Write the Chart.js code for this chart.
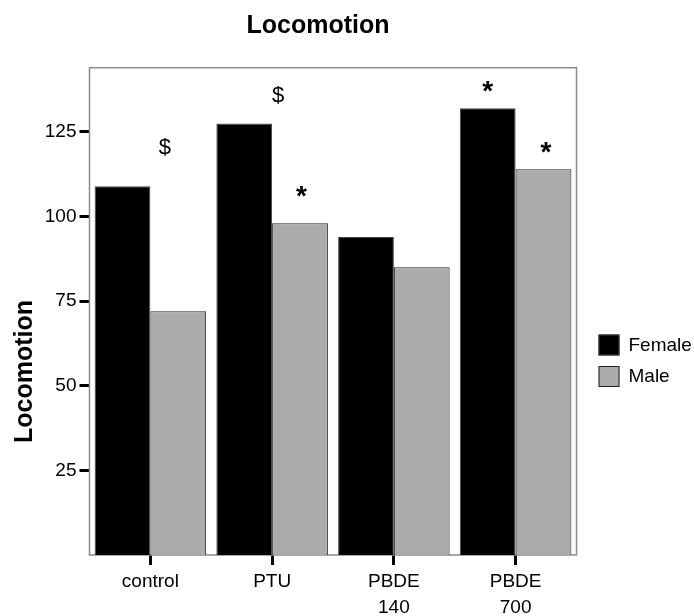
<!DOCTYPE html>
<html>
<head>
<meta charset="utf-8">
<script src="https://cdn.jsdelivr.net/npm/chart.js@4.4.1/dist/chart.umd.min.js"></script>
<style>
  html, body { margin: 0; padding: 0; background: #fff; }
</style>
</head>
<body>
<canvas id="chart1" width="694" height="616"></canvas>
<script>
// data
const groups = ['control', 'PTU', 'PBDE 140', 'PBDE 700'];
const seriesNames = ['Female', 'Male'];
const female = [109, 127.5, 94, 132];
const male = [72, 98, 85, 114];
const yTicks = [25, 50, 75, 100, 125];
const yMax = 144;

// significance marks: text, category, shift (in category widths), value height
const markText = ['$', '$', '*', '*', '*'];
const markCategory = [0, 1, 1, 3, 3];
const markShift = [0.12, 0.05, 0.24, -0.23, 0.25];
const markValue = [120.7, 136, 107.5, 138.4, 120.4];

const fillColors = ['#000000', '#ababab'];
const edgeColors = ['#444444', '#222222'];
const FONT = '"Liberation Sans", Arial, sans-serif';

const decor = {
    id: 'decor',
    beforeDatasetsDraw(chart) {
        const ctx = chart.ctx, a = chart.chartArea;
        ctx.save();
        ctx.strokeStyle = '#8c8c8c';
        ctx.lineWidth = 1.5;
        ctx.strokeRect(a.left, a.top, a.right - a.left, a.bottom - a.top);
        ctx.restore();
    },
    afterDraw(chart) {
        const ctx = chart.ctx, a = chart.chartArea;
        const xs = chart.scales.x, ys = chart.scales.y;
        ctx.save();
        ctx.fillStyle = '#000';

        // title
        ctx.font = 'bold 25px ' + FONT;
        ctx.textAlign = 'center';
        ctx.textBaseline = 'alphabetic';
        ctx.fillText('Locomotion', 318, 32.5);

        // y axis title
        ctx.save();
        ctx.translate(32, 371.5);
        ctx.rotate(-Math.PI / 2);
        ctx.fillText('Locomotion', 0, 0);
        ctx.restore();

        // marks
        const step = xs.getPixelForValue(1) - xs.getPixelForValue(0);
        markText.forEach(function(t, i) {
            ctx.font = (t === '*' ? 'bold 28px ' : '22px ') + FONT;
            const m = ctx.measureText(t);
            const x = xs.getPixelForValue(markCategory[i]) + markShift[i] * step;
            const yc = ys.getPixelForValue(markValue[i]);
            ctx.textAlign = 'center';
            ctx.fillText(t, x, yc + (m.actualBoundingBoxAscent - m.actualBoundingBoxDescent) / 2);
        });

        // legend
        ctx.font = '19px ' + FONT;
        ctx.textAlign = 'left';
        ctx.textBaseline = 'middle';
        seriesNames.forEach(function(name, i) {
            const bx = a.right + 22, by = 334.5 + i * 31.5;
            ctx.fillStyle = fillColors[i];
            ctx.fillRect(bx, by, 21, 21);
            ctx.strokeStyle = edgeColors[i];
            ctx.lineWidth = 1;
            ctx.strokeRect(bx + 0.5, by + 0.5, 20, 20);
            ctx.fillStyle = '#000';
            ctx.fillText(name, bx + 30, by + 11);
        });
        ctx.restore();
    }
};

new Chart(document.getElementById('chart1'), {
    type: 'bar',
    data: {
        labels: groups,
        datasets: [{
            label: seriesNames[0],
            data: female,
            backgroundColor: fillColors[0],
            borderColor: edgeColors[0],
            borderWidth: 1,
            barPercentage: 1,
            categoryPercentage: 0.916
        }, {
            label: seriesNames[1],
            data: male,
            backgroundColor: fillColors[1],
            borderColor: edgeColors[1],
            borderWidth: 1,
            barPercentage: 1,
            categoryPercentage: 0.916
        }]
    },
    options: {
        responsive: false,
        animation: false,
        devicePixelRatio: 1,
        layout: {
            padding: { top: 67.7, right: 117.5, left: 0, bottom: 0 }
        },
        plugins: {
            legend: { display: false },
            tooltip: { enabled: false }
        },
        scales: {
            x: {
                border: { display: false },
                grid: {
                    offset: false,
                    drawOnChartArea: false,
                    drawTicks: true,
                    tickLength: 10,
                    tickWidth: 3,
                    tickColor: '#000'
                },
                ticks: {
                    color: '#000',
                    padding: 4,
                    maxRotation: 0,
                    autoSkip: false,
                    font: { family: FONT, size: 19, lineHeight: 1.35 },
                    callback: function(v, i) {
                        return groups[i].split(' ');
                    }
                },
                afterFit: function(scale) { scale.height = 61; }
            },
            y: {
                min: 0,
                max: yMax,
                border: { display: false },
                grid: {
                    drawOnChartArea: false,
                    drawTicks: true,
                    tickLength: 10,
                    tickWidth: 3,
                    tickColor: '#000'
                },
                ticks: {
                    color: '#000',
                    padding: 3,
                    font: { family: FONT, size: 19 }
                },
                afterBuildTicks: function(scale) {
                    scale.ticks = yTicks.map(function(v) { return { value: v }; });
                },
                afterFit: function(scale) { scale.width = 89.5; }
            }
        }
    },
    plugins: [decor]
});
</script>
</body>
</html>
